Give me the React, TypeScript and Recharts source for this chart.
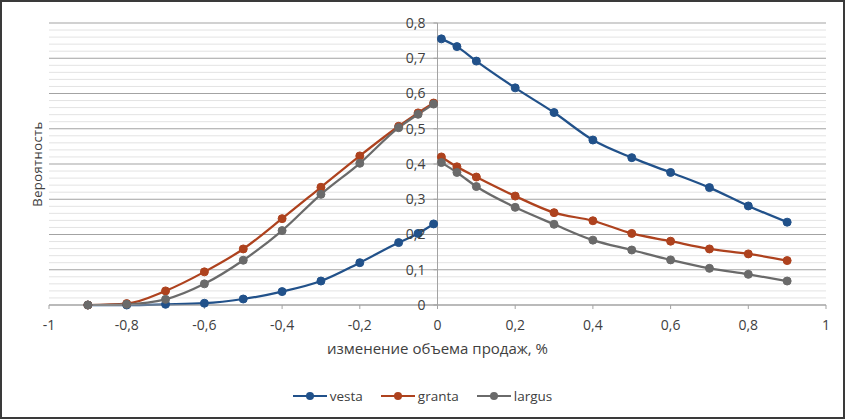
import React from "react";
import {
  CartesianGrid,
  Legend,
  Line,
  LineChart,
  ReferenceLine,
  XAxis,
  YAxis,
} from "recharts";

// Excel-style probability chart: y axis sits at x = 0, lines break at zero.

const X_LEFT = [-0.9, -0.8, -0.7, -0.6, -0.5, -0.4, -0.3, -0.2, -0.1, -0.05, -0.01];
const X_RIGHT = [0.01, 0.05, 0.1, 0.2, 0.3, 0.4, 0.5, 0.6, 0.7, 0.8, 0.9];

const VESTA_LEFT = [0, 0, 0.002, 0.005, 0.017, 0.038, 0.068, 0.12, 0.177, 0.203, 0.23];
const VESTA_RIGHT = [0.755, 0.733, 0.692, 0.616, 0.546, 0.468, 0.418, 0.376, 0.333, 0.281, 0.235];

const GRANTA_LEFT = [0, 0.004, 0.04, 0.094, 0.159, 0.245, 0.334, 0.423, 0.507, 0.545, 0.573];
const GRANTA_RIGHT = [0.42, 0.392, 0.363, 0.309, 0.262, 0.239, 0.203, 0.181, 0.159, 0.145, 0.126];

const LARGUS_LEFT = [0, 0.002, 0.016, 0.06, 0.127, 0.211, 0.314, 0.402, 0.503, 0.541, 0.57];
const LARGUS_RIGHT = [0.404, 0.376, 0.336, 0.277, 0.229, 0.184, 0.156, 0.128, 0.104, 0.087, 0.068];

const X_TICKS = [-1, -0.8, -0.6, -0.4, -0.2, 0, 0.2, 0.4, 0.6, 0.8, 1];
const Y_TICKS = [0, 0.1, 0.2, 0.3, 0.4, 0.5, 0.6, 0.7, 0.8];
const Y_MINOR = [
  0.02, 0.04, 0.06, 0.08, 0.12, 0.14, 0.16, 0.18, 0.22, 0.24, 0.26, 0.28,
  0.32, 0.34, 0.36, 0.38, 0.42, 0.44, 0.46, 0.48, 0.52, 0.54, 0.56, 0.58,
  0.62, 0.64, 0.66, 0.68, 0.72, 0.74, 0.76, 0.78,
];

const SERIES = [
  { key: "vesta", color: "#21518a" },
  { key: "granta", color: "#ae421e" },
  { key: "largus", color: "#6a6a6a" },
];

const data = [
  ...X_LEFT.map((x, i) => ({
    x,
    vesta: VESTA_LEFT[i],
    granta: GRANTA_LEFT[i],
    largus: LARGUS_LEFT[i],
  })),
  { x: 0, vesta: null, granta: null, largus: null },
  ...X_RIGHT.map((x, i) => ({
    x,
    vesta: VESTA_RIGHT[i],
    granta: GRANTA_RIGHT[i],
    largus: LARGUS_RIGHT[i],
  })),
];

const FONT = "'Open Sans', sans-serif";
const TEXT = "#404040";
const AXIS = "#a3a3a3";

const CHART_W = 841;
const CHART_H = 415;
const MARGIN = { top: 21, right: 17, bottom: 74, left: 0 };
const Y_AXIS_W = 47;
const PLOT_W = CHART_W - MARGIN.left - MARGIN.right - Y_AXIS_W;
const X0 = MARGIN.left + Y_AXIS_W + PLOT_W / 2;

const fmt = (v: number) => String(v).replace(".", ",");

function YTick(props: any) {
  const { y, payload } = props;
  return (
    <g>
      <line x1={X0 - 4} x2={X0} y1={y} y2={y} stroke={AXIS} />
      <text
        x={X0 - 12}
        y={y}
        dy="0.35em"
        textAnchor="end"
        fontFamily={FONT}
        fontSize={14}
        fill={TEXT}
      >
        {fmt(payload.value)}
      </text>
    </g>
  );
}

function YLabel(props: any) {
  const { x, y, width, height } = props.viewBox;
  const cx = x + width - 12;
  const cy = y + height / 2;
  return (
    <text
      x={cx}
      y={cy}
      transform={`rotate(-90 ${cx} ${cy})`}
      textAnchor="middle"
      dominantBaseline="central"
      fontFamily={FONT}
      fontSize={13}
      letterSpacing={0.4}
      fill={TEXT}
    >
      Вероятность
    </text>
  );
}

// legend keeps the series order (Recharts would sort it by name)
function LegendContent() {
  return (
    <div
      style={{
        display: "flex",
        justifyContent: "center",
        gap: 18,
        fontFamily: FONT,
        fontSize: 13.5,
        color: TEXT,
      }}
    >
      {SERIES.map((s) => (
        <div key={s.key} style={{ display: "flex", alignItems: "center" }}>
          <svg width={34} height={10}>
            <line x1={0} y1={5} x2={34} y2={5} stroke={s.color} strokeWidth={2} />
            <circle cx={17} cy={5} r={4} fill={s.color} />
          </svg>
          <span style={{ marginLeft: 3 }}>{s.key}</span>
        </div>
      ))}
    </div>
  );
}

export default function App() {
  return (
    <div
      style={{
        position: "absolute",
        left: 0,
        top: 0,
        width: 845,
        height: 419,
        boxSizing: "border-box",
        border: "2px solid #3a3a3a",
        background: "#fff",
      }}
    >
      <LineChart width={CHART_W} height={CHART_H} data={data} margin={MARGIN}>
        <CartesianGrid vertical={false} stroke={AXIS} />
        {Y_MINOR.map((v) => (
          <ReferenceLine key={v} y={v} stroke="#e3e3e3" />
        ))}
        <ReferenceLine x={0} stroke={AXIS} />
        <XAxis
          dataKey="x"
          type="number"
          domain={[-1, 1]}
          ticks={X_TICKS}
          tickFormatter={fmt}
          height={38}
          stroke={AXIS}
          tickSize={4}
          tickMargin={11}
          tick={{ fill: TEXT, fontFamily: FONT, fontSize: 14 }}
          label={{
            value: "изменение объема продаж, %",
            position: "bottom",
            offset: 0,
            fill: TEXT,
            fontFamily: FONT,
            fontSize: 15,
          }}
        />
        <YAxis
          type="number"
          domain={[0, 0.8]}
          ticks={Y_TICKS}
          width={Y_AXIS_W}
          axisLine={false}
          tickLine={false}
          tick={<YTick />}
          label={<YLabel />}
        />
        <Legend
          layout="horizontal"
          verticalAlign="middle"
          align="center"
          content={<LegendContent />}
          wrapperStyle={{ top: 385, left: 0, width: CHART_W }}
        />
        {SERIES.map((s) => (
          <Line
            key={s.key}
            dataKey={s.key}
            name={s.key}
            type="monotone"
            stroke={s.color}
            strokeWidth={2.25}
            dot={{ r: 4, fill: s.color, stroke: s.color, strokeWidth: 1 }}
            activeDot={false}
            isAnimationActive={false}
          />
        ))}
      </LineChart>
    </div>
  );
}
